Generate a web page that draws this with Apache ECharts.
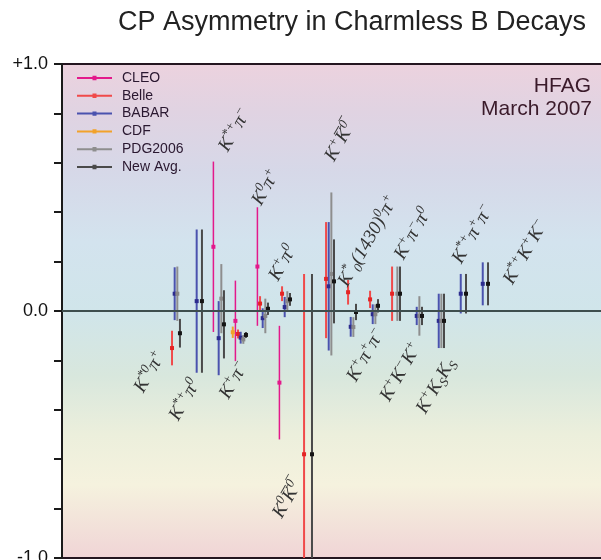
<!DOCTYPE html>
<html><head><meta charset="utf-8">
<script src="https://cdn.jsdelivr.net/npm/echarts@6/dist/echarts.min.js"></script>
<style>html,body{margin:0;padding:0;background:#fff}#c{width:601px;height:560px}</style>
</head><body><div id="c"></div>
<script>
// ---- data ----
const decays = ['K^{*0}π^{+}', 'K^{*+}π^{0}', 'K^{*+}π^{−}', 'K^{+}π^{−}', 'K^{0}π^{+}', 'K^{+}π^{0}',
  'K^{0}K\u0305^{0\u0305}', 'K^{+}K\u0305^{0\u0305}', 'K^{*}_{0}(1430)^{0}π^{+}', 'K^{+}π^{+}π^{−}', 'K^{+}π^{−}π^{0}',
  'K^{+}K^{−}K^{+}', 'K^{+}K_{S}K_{S}', 'K^{*+}π^{+}π^{−}', 'K^{*+}K^{+}K^{−}'];
const yTicks = {'1': '+1.0', '0': '0.0', '-1': '-1.0'};

const cleoVal = [null, null, 0.26, -0.04, 0.18, -0.29, null, null, null, null, null, null, null, null, null];
const cleoErr = [null, null, 0.345, 0.163, 0.24, 0.23, null, null, null, null, null, null, null, null, null];

const belleVal = [-0.15, null, null, -0.093, 0.03, 0.07, -0.58, 0.13, 0.076, 0.047, 0.07, null, null, null, null];
const belleErr = [0.07, null, null, 0.018, 0.03, 0.03, [0.73, 0.66], [0.23, 0.24], 0.05, 0.035, 0.11, null, null, null, null];

const babarVal = [0.07, 0.04, -0.11, -0.108, -0.029, 0.016, null, 0.10, -0.064, -0.013, null, -0.02, -0.04, 0.07, 0.11];
const babarErr = [0.107, 0.29, 0.15, 0.024, 0.04, 0.041, null, 0.26, 0.04, 0.04, null, 0.037, 0.11, 0.08, 0.087];

const cdfVal = [null, null, null, -0.086, null, null, null, null, null, null, null, null, null, null, null];
const cdfErr = [null, null, null, 0.023, null, null, null, null, null, null, null, null, null, null, null];

const pdgVal = [0.07, null, 0.05, -0.115, -0.02, 0.04, null, 0.15, -0.065, -0.013, 0.07, -0.02, -0.04, null, null];
const pdgErr = [0.11, null, 0.14, 0.018, 0.07, 0.04, null, 0.33, 0.04, 0.04, 0.11, 0.08, 0.11, null, null];

const avgVal = [-0.09, 0.04, -0.054, -0.097, 0.009, 0.047, -0.58, 0.12, -0.004, 0.021, 0.07, -0.02, -0.04, 0.07, 0.11];
const avgErr = [0.058, 0.29, 0.138, 0.012, 0.025, 0.026, [0.73, 0.66], 0.17, 0.033, 0.027, 0.11, 0.037, 0.11, 0.08, 0.087];

// ---- layout (not data) ----
const labelAnchor = [[-0.18, -0.247], [1.41, -0.36], [3.68, 0.733], [3.64, -0.28], [5.09, 0.50], [5.86, 0.194],
  [6.05, -0.765], [8.45, 0.684], [9.73, 0.283], [9.64, -0.178], [11.77, 0.312], [11.23, -0.247],
  [12.82, -0.304], [14.5, 0.312], [16.9, 0.239]];

const RICH = {
  m: {fontSize: 19, lineHeight: 24, fontFamily: 'Liberation Serif', fontStyle: 'italic', fill: '#333', verticalAlign: 'middle'},
  s: {fontSize: 13, lineHeight: 13, fontFamily: 'Liberation Serif', fontStyle: 'italic', fill: '#333', verticalAlign: 'top'},
  b: {fontSize: 13, lineHeight: 13, fontFamily: 'Liberation Serif', fontStyle: 'italic', fill: '#333', verticalAlign: 'bottom'}
};
function toRich(str) {
  let out = '';
  const re = /([\^_])\{([^}]*)\}|([^\^_]+)/g;
  let m;
  while ((m = re.exec(str))) {
    if (m[1] === '^') out += '{s|' + m[2] + '}';
    else if (m[1] === '_') out += '{b|' + m[2] + '}';
    else out += '{m|' + m[3] + '}';
  }
  return out;
}

function errSeries(name, vals, errs, slot, barColor, markColor, barWidth, z) {
  const data = [];
  vals.forEach((v, i) => {
    if (v == null) return;
    const e = errs[i];
    const up = Array.isArray(e) ? e[0] : e;
    const dn = Array.isArray(e) ? e[1] : e;
    data.push([i + 1 + slot, v, v - dn, v + up]);
  });
  return {
    name, type: 'custom', data, z: z,
    itemStyle: {color: barColor},
    encode: {x: 0, y: 1},
    renderItem: (params, api) => {
      const x = api.value(0), v = api.value(1);
      const lo = Math.max(-1, api.value(2)), hi = Math.min(1, api.value(3));
      const p = api.coord([x, v]), a = api.coord([x, lo]), b = api.coord([x, hi]);
      return {type: 'group', children: [
        {type: 'line', shape: {x1: p[0], y1: a[1], x2: p[0], y2: b[1]}, style: {stroke: barColor, lineWidth: barWidth}},
        {type: 'rect', shape: {x: p[0] - 2, y: p[1] - 2, width: 4, height: 4}, style: {fill: markColor}}
      ]};
    }
  };
}

const chart = echarts.init(document.getElementById('c'), null, {renderer: 'canvas'});
const legendIcon = 'path://M0,2H35V4H0Z M15.5,0.8H19.5V5.2H15.5Z';
const option = {
  animation: false,
  backgroundColor: '#fff',
  title: {
    text: 'CP Asymmetry in Charmless B Decays', left: 113, top: 4,
    textStyle: {fontSize: 27, fontWeight: 'normal', color: '#222', fontFamily: 'Liberation Sans'}
  },
  legend: {
    orient: 'vertical', left: 77, top: 70, itemWidth: 35, itemHeight: 6, itemGap: 1.8, padding: 0,
    icon: legendIcon,
    textStyle: {fontSize: 14, color: '#2a1830', fontFamily: 'Liberation Sans', lineHeight: 16, padding: [0, 0, 0, 5]},
    data: ['CLEO', 'Belle', 'BABAR', 'CDF', 'PDG2006', 'New Avg.'],
    selectedMode: false
  },
  graphic: [
    {type: 'text', right: 10, top: 76,
      style: {text: 'HFAG', fontSize: 21, fill: '#3a1a2a', fontFamily: 'Liberation Sans'}},
    {type: 'text', right: 9, top: 99,
      style: {text: 'March 2007', fontSize: 21, fill: '#3a1a2a', fontFamily: 'Liberation Sans'}}
  ],
  grid: {
    left: 62, right: -3, top: 64, bottom: 2, show: true, outerBoundsMode: 'none', containLabel: false,
    borderColor: '#241520', borderWidth: 2,
    backgroundColor: {type: 'linear', x: 0, y: 0, x2: 0, y2: 1, colorStops: [
      {offset: 0, color: '#ecd2de'},
      {offset: 0.1, color: '#e0d3e2'},
      {offset: 0.22, color: '#d6d8e8'},
      {offset: 0.36, color: '#d3e3ee'},
      {offset: 0.5, color: '#d0e5ea'},
      {offset: 0.63, color: '#d8e7dd'},
      {offset: 0.75, color: '#ecefdc'},
      {offset: 0.85, color: '#f5f2de'},
      {offset: 1, color: '#f0d4d6'}
    ]}
  },
  xAxis: {
    type: 'value', min: -4.18, max: 20.45,
    axisLine: {show: false}, axisTick: {show: false}, axisLabel: {show: false}, splitLine: {show: false}
  },
  yAxis: {
    type: 'value', min: -1, max: 1, interval: 0.2,
    axisLine: {show: true, onZero: false, lineStyle: {color: '#1a1a1a', width: 2}},
    axisTick: {show: true, length: 8, lineStyle: {color: '#1a1a1a', width: 2}},
    axisLabel: {
      margin: 14, fontSize: 18, color: '#111', fontFamily: 'Liberation Sans',
      showMinLabel: true, showMaxLabel: true,
      formatter: v => { const k = String(Math.round(v * 10) / 10); return yTicks[k] || ''; }
    },
    splitLine: {show: false}
  },
  series: [
    {
      type: 'custom', name: 'zero', data: [], z: 1, silent: true,
      renderItem: () => null,
      markLine: {silent: true, symbol: ['none', 'none'], label: {show: false},
        lineStyle: {color: '#3e4e4e', width: 2, type: 'solid'}, data: [{yAxis: 0}]}
    },
    errSeries('CLEO', cleoVal, cleoErr, -0.30, '#e3198b', '#e3198b', 1.5, 3),
    errSeries('Belle', belleVal, belleErr, -0.18, '#f04a4a', '#e32424', 2, 3),
    errSeries('BABAR', babarVal, babarErr, -0.06, '#4a52ae', '#2c2c8e', 2, 3),
    errSeries('CDF', cdfVal, cdfErr, -0.42, '#f2a22a', '#f2a22a', 2, 3),
    errSeries('PDG2006', pdgVal, pdgErr, 0.06, '#8e8e8e', '#888', 2, 3),
    errSeries('New Avg.', avgVal, avgErr, 0.18, '#4a4a4a', '#151515', 2, 3),
    {
      type: 'custom', name: 'labels', silent: true, z: 4,
      data: labelAnchor.map((p, i) => [p[0], p[1], i]),
      encode: {x: 0, y: 1},
      renderItem: (params, api) => {
        const c = api.coord([api.value(0), api.value(1)]);
        return {
          type: 'text', x: c[0], y: c[1], rotation: 60 * Math.PI / 180,
          style: {text: toRich(decays[api.value(2)]), rich: RICH, align: 'center', verticalAlign: 'middle',
            fill: '#333', fontSize: 19, fontFamily: 'Liberation Serif', fontStyle: 'italic'}
        };
      }
    }
  ]
};
chart.setOption(option);
</script></body></html>
